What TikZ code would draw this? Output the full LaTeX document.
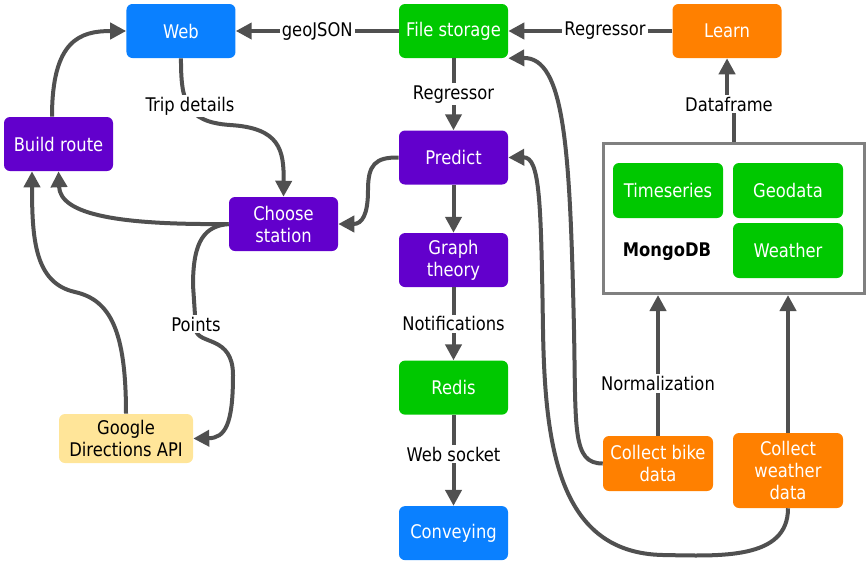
\documentclass[tikz,border=0pt]{standalone}
\usepackage{fontspec}
\setmainfont{DejaVu Sans}[FakeStretch=0.87]
\usepackage{tikz}
\usetikzlibrary{arrows.meta, positioning, calc}
\definecolor{webblue}{HTML}{0A80FF}
\definecolor{storegreen}{HTML}{00C800}
\definecolor{procpurple}{HTML}{6200CC}
\definecolor{learnorange}{HTML}{FF8000}
\definecolor{apiyellow}{HTML}{FFE599}
\definecolor{arrowgray}{HTML}{505050}
\definecolor{boxgray}{HTML}{808080}

\begin{document}
\begin{tikzpicture}[x=0.75pt, y=-0.75pt, >={Triangle[length=12pt,width=12pt]}, font=\fontsize{14.1}{16.5}\selectfont,
    box/.style={rounded corners=4.5pt, minimum width=81.75pt, minimum height=40.5pt, align=center, text=white, inner sep=2pt},
    lbl/.style={fill=white, text=black, inner sep=1.5pt},
    flow/.style={->, line width=3pt, draw=arrowgray}]
    \useasboundingbox (0,0) rectangle (866,561);

    % middle column
    \node[box, fill=storegreen] (store) at (453.5,31) {File storage};
    \node[box, fill=webblue, left=122.25pt of store] (web) {Web};
    \node[box, fill=learnorange, right=123pt of store] (learn) {Learn};
    \node[box, fill=procpurple, below=54pt of store] (predict) {Predict};
    \node[box, fill=procpurple, below=36pt of predict] (graph) {Graph\\theory};
    \node[box, fill=storegreen, below=54.75pt of graph] (redis) {Redis};
    \node[box, fill=webblue, below=68.25pt of redis] (convey) {Conveying};

    % left side
    \node[box, fill=procpurple] (build) at (58.5,144) {Build route};
    \node[box, fill=procpurple] (choose) at (283.5,224) {Choose\\station};
    \node[box, fill=apiyellow, text=black, minimum width=100.5pt, minimum height=36.75pt] (google) at (126,438.5) {Google\\Directions API};

    % database
    \node[draw=boxgray, line width=2.25pt, fill=white, minimum width=195.75pt, minimum height=112.5pt] (mongo) at (734,218.5) {};
    \node[box, fill=storegreen, minimum width=82.5pt, minimum height=41.25pt] (times) at (668,190.5) {Timeseries};
    \node[box, fill=storegreen, minimum width=82.5pt, minimum height=41.25pt] (geo) at (788,190.5) {Geodata};
    \node[box, fill=storegreen, minimum width=82.5pt, minimum height=41.25pt] (weath) at (788,250.5) {Weather};
    \node[font=\fontsize{14.1}{16.5}\selectfont\bfseries] (mongolbl) at (667,252) {MongoDB};

    \node[box, fill=learnorange, minimum width=82.5pt, minimum height=41.25pt] (bike) at (658,463.5) {Collect bike\\data};
    \node[box, fill=learnorange, minimum width=82.5pt, minimum height=56.25pt] (weather) at (788,470.5) {Collect\\weather\\data};

    % straight flows
    \draw[flow] (store) -- node[lbl] {geoJSON} (web);
    \draw[flow] (learn) -- node[lbl, pos=0.41] {Regressor} (store);
    \draw[flow] (store) -- node[lbl] {Regressor} (predict);
    \draw[flow] (predict) -- (graph);
    \draw[flow] (graph) -- node[lbl] {Notifications} (redis);
    \draw[flow] (redis) -- node[lbl, pos=0.43] {Web socket} (convey);
    \draw[flow] (mongo.north) -- ++(0,-38) -| (learn.south);
    \node[lbl] (dflbl) at (729,104) {Dataframe};
    \draw[flow] (bike.north) -- node[lbl, pos=0.37] {Normalization} (bike.north |- mongo.south);
    \draw[flow] (weather.north) -- (weather.north |- mongo.south);

    % curved flows
    \draw[flow] (bike.west) .. controls (572,463.5) and (576,430) .. (574,330) .. controls (570,150) and (565,57) .. (store.south east);
    \draw[flow] (weather.south) .. controls (788,560) and (720,556) .. (663,555) .. controls (560,553) and (545,450) .. (543,330) .. controls (541,200) and (540,157) .. (predict.east);
    \draw[flow] (predict.west) .. controls (375,157) and (368,165) .. (368,190) .. controls (368,215) and (362,224) .. (choose.east);
    \draw[flow] (web.south) .. controls (181,100) and (185,122) .. (230,125) .. controls (280,128) and (284,150) .. (choose.north);
    \node[lbl] (triplbl) at (190,106) {Trip details};
    \draw[flow] (choose.west) .. controls (120,225) and (60,215) .. (build.south);
    \draw[flow] (google.north) .. controls (126,330) and (110,300) .. (75,292) .. controls (35,283) and (32,240) .. ($(build.south)+(-26.5,0)$);
    \draw[flow] (choose.west) .. controls (205,226) and (193,240) .. (193,285) -- (196,330) .. controls (198,345) and (233,335) .. (233,375) .. controls (233,425) and (225,438) .. (google.east);
    \node[lbl] (ptslbl) at (196,324) {Points};
    \draw[flow] ($(build.north)+(-6.5,0)$) .. controls (52,40) and (80,31) .. (web.west);
\end{tikzpicture}
\end{document}
